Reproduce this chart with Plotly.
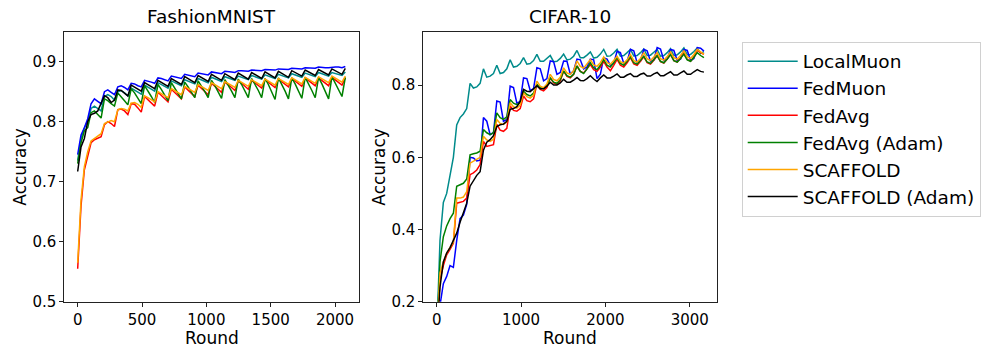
import numpy as np
import plotly.graph_objects as go

# ---------------- data ----------------
SERIES_NAMES = ["LocalMuon", "FedMuon", "FedAvg", "FedAvg (Adam)", "SCAFFOLD", "SCAFFOLD (Adam)"]
SERIES_COLORS = ["darkcyan", "blue", "red", "green", "orange", "black"]

# FashionMNIST: evaluation rounds 0..2080
fm_rounds = np.arange(0, 2081, 26)

fm_localmuon = [0.735, 0.772, 0.790, 0.800, 0.822, 0.826, 0.822, 0.818,
                0.842, 0.845, 0.842, 0.836, 0.850, 0.852, 0.848, 0.843,
                0.856, 0.853, 0.849, 0.846, 0.861, 0.858, 0.854, 0.851,
                0.865, 0.862, 0.858, 0.856, 0.868, 0.865, 0.862, 0.860,
                0.870, 0.868, 0.865, 0.863, 0.872, 0.870, 0.867, 0.865,
                0.874, 0.872, 0.869, 0.867, 0.875, 0.873, 0.871, 0.869,
                0.876, 0.874, 0.872, 0.870, 0.877, 0.875, 0.873, 0.871,
                0.878, 0.876, 0.874, 0.872, 0.879, 0.877, 0.875, 0.873,
                0.880, 0.878, 0.876, 0.874, 0.881, 0.879, 0.877, 0.875,
                0.882, 0.880, 0.878, 0.876, 0.882, 0.880, 0.878, 0.877,
                0.883]
fm_fedmuon = [0.745, 0.778, 0.790, 0.805, 0.830, 0.838, 0.834, 0.830,
              0.850, 0.853, 0.849, 0.845, 0.858, 0.860, 0.857, 0.853,
              0.864, 0.863, 0.860, 0.858, 0.869, 0.868, 0.866, 0.864,
              0.873, 0.872, 0.870, 0.868, 0.876, 0.875, 0.873, 0.872,
              0.879, 0.878, 0.876, 0.875, 0.881, 0.880, 0.879, 0.878,
              0.883, 0.882, 0.881, 0.880, 0.884, 0.884, 0.883, 0.882,
              0.885, 0.885, 0.884, 0.884, 0.886, 0.886, 0.885, 0.885,
              0.887, 0.887, 0.886, 0.886, 0.888, 0.888, 0.887, 0.887,
              0.889, 0.889, 0.888, 0.888, 0.890, 0.890, 0.889, 0.889,
              0.891, 0.890, 0.890, 0.890, 0.891, 0.891, 0.891, 0.890,
              0.892]
fm_fedavg = [0.555, 0.660, 0.720, 0.745, 0.765, 0.770, 0.772, 0.775,
             0.795, 0.800, 0.797, 0.792, 0.820, 0.821, 0.818, 0.812,
             0.830, 0.829, 0.823, 0.816, 0.842, 0.837, 0.832, 0.826,
             0.849, 0.844, 0.839, 0.833, 0.854, 0.849, 0.844, 0.838,
             0.858, 0.853, 0.848, 0.842, 0.861, 0.856, 0.851, 0.845,
             0.864, 0.859, 0.854, 0.849, 0.866, 0.862, 0.857, 0.852,
             0.868, 0.864, 0.859, 0.854, 0.869, 0.865, 0.860, 0.856,
             0.870, 0.866, 0.861, 0.857, 0.871, 0.867, 0.862, 0.858,
             0.872, 0.868, 0.863, 0.859, 0.873, 0.869, 0.864, 0.860,
             0.873, 0.869, 0.864, 0.860, 0.874, 0.870, 0.865, 0.861,
             0.873]
fm_fedavg_adam = [0.730, 0.765, 0.785, 0.790, 0.815, 0.818, 0.812, 0.806,
                  0.838, 0.835, 0.830, 0.826, 0.848, 0.842, 0.835, 0.828,
                  0.855, 0.848, 0.839, 0.830, 0.860, 0.852, 0.842, 0.832,
                  0.862, 0.854, 0.844, 0.835, 0.865, 0.857, 0.847, 0.838,
                  0.866, 0.858, 0.849, 0.840, 0.868, 0.860, 0.850, 0.840,
                  0.869, 0.860, 0.850, 0.839, 0.870, 0.861, 0.851, 0.840,
                  0.871, 0.862, 0.851, 0.840, 0.872, 0.863, 0.852, 0.840,
                  0.872, 0.862, 0.850, 0.837, 0.873, 0.863, 0.851, 0.838,
                  0.873, 0.863, 0.851, 0.839, 0.874, 0.864, 0.852, 0.840,
                  0.874, 0.863, 0.850, 0.838, 0.875, 0.864, 0.851, 0.842,
                  0.874]
fm_scaffold = [0.565, 0.670, 0.725, 0.750, 0.768, 0.772, 0.775, 0.780,
               0.797, 0.800, 0.802, 0.800, 0.820, 0.822, 0.821, 0.818,
               0.831, 0.832, 0.829, 0.824, 0.843, 0.840, 0.836, 0.833,
               0.850, 0.847, 0.843, 0.840, 0.855, 0.852, 0.848, 0.845,
               0.859, 0.856, 0.852, 0.849, 0.862, 0.859, 0.855, 0.852,
               0.865, 0.862, 0.858, 0.855, 0.867, 0.864, 0.860, 0.857,
               0.869, 0.866, 0.862, 0.859, 0.870, 0.867, 0.863, 0.860,
               0.871, 0.868, 0.864, 0.861, 0.872, 0.869, 0.865, 0.862,
               0.873, 0.870, 0.866, 0.863, 0.874, 0.871, 0.867, 0.864,
               0.875, 0.872, 0.868, 0.865, 0.876, 0.873, 0.869, 0.866,
               0.876]
fm_scaffold_adam = [0.717, 0.758, 0.772, 0.800, 0.812, 0.814, 0.818, 0.832,
                    0.843, 0.840, 0.832, 0.836, 0.853, 0.852, 0.847, 0.843,
                    0.861, 0.858, 0.854, 0.851, 0.865, 0.862, 0.858, 0.855,
                    0.869, 0.866, 0.862, 0.859, 0.872, 0.869, 0.865, 0.862,
                    0.875, 0.872, 0.868, 0.865, 0.877, 0.874, 0.870, 0.867,
                    0.879, 0.876, 0.872, 0.869, 0.880, 0.877, 0.873, 0.870,
                    0.881, 0.878, 0.874, 0.871, 0.882, 0.879, 0.875, 0.872,
                    0.883, 0.880, 0.876, 0.873, 0.884, 0.881, 0.877, 0.874,
                    0.885, 0.882, 0.878, 0.876, 0.886, 0.883, 0.879, 0.877,
                    0.887, 0.884, 0.880, 0.878, 0.888, 0.885, 0.881, 0.879,
                    0.889]

# CIFAR-10: evaluation rounds 0..3168
cf_rounds = np.linspace(0, 3168, 81)

cf_localmuon = [0.100, 0.370, 0.475, 0.500, 0.550, 0.600, 0.690, 0.710,
                0.720, 0.735, 0.805, 0.792, 0.795, 0.805, 0.845, 0.822,
                0.825, 0.832, 0.855, 0.832, 0.835, 0.845, 0.870, 0.850,
                0.852, 0.860, 0.876, 0.858, 0.860, 0.868, 0.885, 0.866,
                0.866, 0.873, 0.882, 0.865, 0.866, 0.874, 0.886, 0.870,
                0.872, 0.880, 0.896, 0.876, 0.876, 0.883, 0.892, 0.875,
                0.877, 0.886, 0.899, 0.880, 0.881, 0.889, 0.899, 0.880,
                0.882, 0.890, 0.899, 0.881, 0.882, 0.890, 0.900, 0.882,
                0.883, 0.891, 0.899, 0.880, 0.882, 0.890, 0.901, 0.882,
                0.884, 0.892, 0.903, 0.884, 0.885, 0.893, 0.903, 0.888,
                0.893]
cf_fedmuon = [0.100, 0.190, 0.250, 0.270, 0.300, 0.295, 0.370, 0.430,
              0.440, 0.470, 0.600, 0.598, 0.590, 0.592, 0.710, 0.700,
              0.663, 0.668, 0.756, 0.753, 0.700, 0.705, 0.797, 0.793,
              0.750, 0.755, 0.820, 0.818, 0.785, 0.790, 0.848, 0.845,
              0.812, 0.818, 0.867, 0.865, 0.830, 0.835, 0.867, 0.866,
              0.830, 0.840, 0.872, 0.870, 0.845, 0.850, 0.872, 0.870,
              0.818, 0.830, 0.876, 0.872, 0.855, 0.860, 0.894, 0.890,
              0.860, 0.865, 0.899, 0.895, 0.862, 0.867, 0.899, 0.895,
              0.866, 0.870, 0.904, 0.900, 0.868, 0.872, 0.899, 0.896,
              0.868, 0.872, 0.899, 0.896, 0.868, 0.874, 0.904, 0.902,
              0.894]
cf_fedavg = [0.100, 0.260, 0.300, 0.330, 0.345, 0.362, 0.473, 0.476,
             0.478, 0.487, 0.552, 0.557, 0.565, 0.580, 0.644, 0.630,
             0.632, 0.635, 0.691, 0.675, 0.672, 0.680, 0.742, 0.730,
             0.728, 0.735, 0.770, 0.757, 0.754, 0.762, 0.802, 0.788,
             0.784, 0.793, 0.820, 0.806, 0.802, 0.812, 0.839, 0.824,
             0.820, 0.830, 0.853, 0.838, 0.834, 0.845, 0.857, 0.843,
             0.838, 0.850, 0.866, 0.850, 0.840, 0.855, 0.871, 0.855,
             0.850, 0.862, 0.876, 0.859, 0.855, 0.866, 0.879, 0.862,
             0.858, 0.869, 0.882, 0.865, 0.861, 0.872, 0.885, 0.868,
             0.864, 0.875, 0.888, 0.871, 0.866, 0.878, 0.897, 0.890,
             0.885]
cf_fedavg_adam = [0.100, 0.310, 0.380, 0.410, 0.430, 0.445, 0.520, 0.523,
                  0.528, 0.540, 0.607, 0.610, 0.612, 0.617, 0.677, 0.668,
                  0.663, 0.668, 0.723, 0.710, 0.705, 0.712, 0.760, 0.750,
                  0.746, 0.752, 0.783, 0.774, 0.770, 0.778, 0.802, 0.793,
                  0.790, 0.798, 0.820, 0.808, 0.805, 0.815, 0.839, 0.826,
                  0.822, 0.830, 0.853, 0.838, 0.832, 0.845, 0.862, 0.848,
                  0.843, 0.855, 0.871, 0.855, 0.850, 0.862, 0.876, 0.860,
                  0.855, 0.866, 0.879, 0.862, 0.858, 0.869, 0.880, 0.864,
                  0.860, 0.870, 0.882, 0.866, 0.862, 0.872, 0.885, 0.868,
                  0.864, 0.874, 0.886, 0.870, 0.866, 0.877, 0.890, 0.882,
                  0.876]
cf_scaffold = [0.100, 0.280, 0.310, 0.335, 0.350, 0.365, 0.487, 0.487,
               0.490, 0.505, 0.584, 0.590, 0.595, 0.600, 0.658, 0.648,
               0.644, 0.650, 0.705, 0.694, 0.691, 0.698, 0.751, 0.740,
               0.736, 0.745, 0.779, 0.768, 0.764, 0.772, 0.811, 0.797,
               0.793, 0.803, 0.830, 0.816, 0.812, 0.822, 0.848, 0.834,
               0.830, 0.840, 0.867, 0.852, 0.847, 0.858, 0.871, 0.856,
               0.852, 0.862, 0.878, 0.862, 0.858, 0.868, 0.880, 0.865,
               0.861, 0.870, 0.885, 0.868, 0.864, 0.874, 0.890, 0.873,
               0.868, 0.878, 0.890, 0.873, 0.869, 0.879, 0.892, 0.876,
               0.872, 0.882, 0.895, 0.878, 0.874, 0.885, 0.899, 0.892,
               0.885]
cf_scaffold_adam = [0.100, 0.240, 0.310, 0.335, 0.350, 0.370, 0.390, 0.420,
                    0.445, 0.473, 0.520, 0.535, 0.550, 0.560, 0.620, 0.642,
                    0.649, 0.660, 0.685, 0.690, 0.692, 0.700, 0.733, 0.735,
                    0.740, 0.755, 0.788, 0.783, 0.782, 0.790, 0.798, 0.790,
                    0.790, 0.797, 0.808, 0.800, 0.800, 0.806, 0.816, 0.808,
                    0.808, 0.814, 0.821, 0.813, 0.812, 0.818, 0.826, 0.817,
                    0.810, 0.820, 0.828, 0.820, 0.820, 0.825, 0.831, 0.822,
                    0.822, 0.828, 0.832, 0.824, 0.824, 0.830, 0.833, 0.825,
                    0.825, 0.831, 0.835, 0.826, 0.826, 0.832, 0.837, 0.828,
                    0.828, 0.834, 0.839, 0.830, 0.830, 0.837, 0.843, 0.838,
                    0.836]

fm_series = [fm_localmuon, fm_fedmuon, fm_fedavg, fm_fedavg_adam, fm_scaffold, fm_scaffold_adam]
cf_series = [cf_localmuon, cf_fedmuon, cf_fedavg, cf_fedavg_adam, cf_scaffold, cf_scaffold_adam]

FM_XTICKS = [0, 500, 1000, 1500, 2000]
FM_YTICKS = [0.5, 0.6, 0.7, 0.8, 0.9]
CF_XTICKS = [0, 1000, 2000, 3000]
CF_YTICKS = [0.2, 0.4, 0.6, 0.8]

# ---------------- figure ----------------
W, H = 997, 356
FONT = "DejaVu Sans"

fig = go.Figure()
for name, color, ys in zip(SERIES_NAMES, SERIES_COLORS, fm_series):
    fig.add_trace(go.Scatter(x=fm_rounds, y=ys, mode="lines", name=name, legendgroup=name,
                             line=dict(color=color, width=1.5), xaxis="x", yaxis="y"))
for name, color, ys in zip(SERIES_NAMES, SERIES_COLORS, cf_series):
    fig.add_trace(go.Scatter(x=cf_rounds, y=ys, mode="lines", name=name, legendgroup=name,
                             showlegend=False,
                             line=dict(color=color, width=1.5), xaxis="x2", yaxis="y2"))

def px_x(p):
    return p / W

def px_y(p):
    return 1 - p / H

axis_common = dict(showline=True, mirror=True, linecolor="#222", linewidth=1,
                   ticks="outside", ticklen=4, tickcolor="#222", tickwidth=1,
                   showgrid=False, zeroline=False, automargin=False,
                   tickfont=dict(family=FONT, size=15, color="black"))

L_DOM = [px_x(64.3), px_x(358.7)]
R_DOM = [px_x(423.3), px_x(717.3)]
ydom = [px_y(301.7), px_y(31.7)]


def text_ann(text, x, y, size, angle=0):
    return dict(text=text, x=x, y=y, xref="paper", yref="paper", showarrow=False,
                xanchor="center", yanchor="middle", textangle=angle,
                font=dict(family=FONT, size=size, color="black"))


fig.update_layout(
    width=W, height=H,
    margin=dict(l=0, r=0, t=0, b=0),
    paper_bgcolor="white", plot_bgcolor="white",
    font=dict(family=FONT, color="black"),
    xaxis=dict(domain=L_DOM, range=[-104, 2184], tickvals=FM_XTICKS, anchor="y",
               **axis_common),
    yaxis=dict(domain=ydom, range=[0.5, 0.95], tickvals=FM_YTICKS, tickformat=".1f",
               anchor="x", **axis_common),
    xaxis2=dict(domain=R_DOM, range=[-158.4, 3326.4], tickvals=CF_XTICKS, anchor="y2",
                **axis_common),
    yaxis2=dict(domain=ydom, range=[0.2, 0.948], tickvals=CF_YTICKS, tickformat=".1f",
                anchor="x2", **axis_common),
    legend=dict(x=px_x(741.7), y=px_y(41.7), xanchor="left", yanchor="top",
                bgcolor="white", bordercolor="#d0d0d0", borderwidth=1,
                font=dict(family=FONT, size=18.5, color="black"),
                itemwidth=50, tracegroupgap=0),
    annotations=[
        text_ann("FashionMNIST", sum(L_DOM) / 2, px_y(17), 18.5),
        text_ann("CIFAR-10", sum(R_DOM) / 2, px_y(17), 18.5),
        text_ann("Round", sum(L_DOM) / 2, px_y(338), 17),
        text_ann("Round", sum(R_DOM) / 2, px_y(338), 17),
        text_ann("Accuracy", px_x(20), px_y(166.7), 17, -90),
        text_ann("Accuracy", px_x(379), px_y(166.7), 17, -90),
    ],
)

fig.write_html("out.html", config={"displayModeBar": False},
               post_script="document.body.style.margin='0';")
